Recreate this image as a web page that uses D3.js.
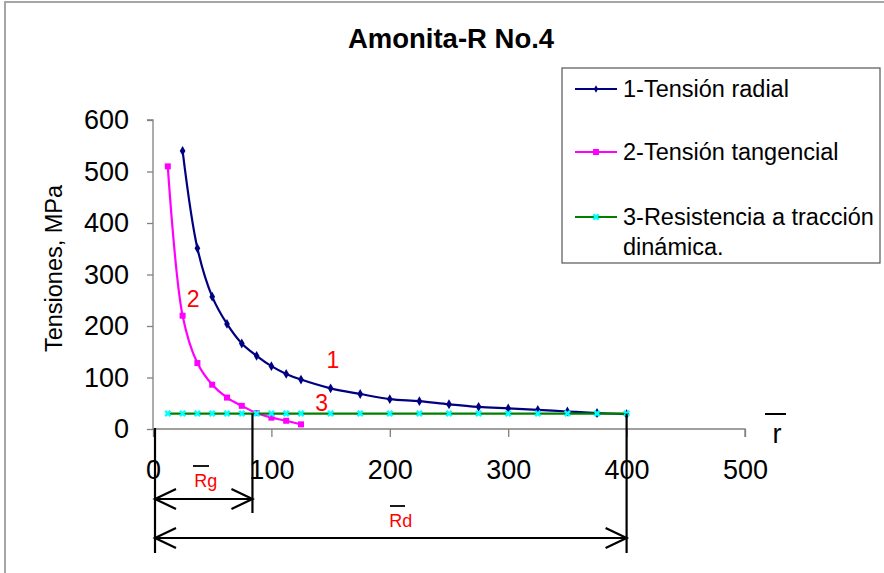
<!DOCTYPE html>
<html><head><meta charset="utf-8">
<script src="https://cdn.jsdelivr.net/npm/d3@7"></script>
<style>
html,body{margin:0;padding:0;background:#fff;}
svg{display:block;font-family:Arial,"Liberation Sans",sans-serif;}
</style></head>
<body>
<svg id="chart" width="884" height="573"></svg>
<script>
// ---- data ----
const title = "Amonita-R No.4";
const yLabel = "Tensiones, MPa";
const xTicks = [0, 100, 200, 300, 400, 500];
const yTicks = [0, 100, 200, 300, 400, 500, 600];
const seriesNames = ["1-Tensión radial", "2-Tensión tangencial", "3-Resistencia a tracción", "dinámica."];

const radialX = [25, 37.5, 50, 62.5, 75, 87.5, 100, 112.5, 125, 150, 175, 200, 225, 250, 275, 300, 325, 350, 375, 400];
const radialY = [540, 351, 257, 204, 166, 142, 122, 107, 96, 79, 68, 58, 54, 48, 43, 40, 37, 34, 31, 29];

const tangX = [12.5, 25, 37.5, 50, 62.5, 75, 87.5, 100, 112.5, 125];
const tangY = [510, 220, 128, 86, 61, 45, 31, 22, 16, 9];

const resistX = [12.5, 25, 37.5, 50, 62.5, 75, 87.5, 100, 112.5, 125, 150, 175, 200, 225, 250, 275, 300, 325, 350, 375, 400];
const resistY = [30, 30, 30, 30, 30, 30, 30, 30, 30, 30, 30, 30, 30, 30, 30, 30, 30, 30, 30, 30, 30];

const Rg = 84;   // radius of crushing zone
const Rd = 400;  // radius of fracture zone

// ---- layout ----
const svg = d3.select("#chart");
const x = d3.scaleLinear().domain([0, 500]).range([153, 745]);
const y = d3.scaleLinear().domain([0, 600]).range([429, 120]);

// outer frame
svg.append("path").attr("d", "M5,580 L5,2 L890,2")
  .attr("fill", "none").attr("stroke", "#a6a6a6").attr("stroke-width", 2);

// title
svg.append("text").attr("x", 451).attr("y", 48).attr("text-anchor", "middle")
  .attr("font-size", 27.5).attr("font-weight", "bold").text(title);

// axes
const xAxis = svg.append("g").attr("transform", `translate(0,${y(0)})`)
  .call(d3.axisBottom(x).tickValues(xTicks).tickSize(8).tickPadding(23).tickFormat(d3.format("d")));
const yAxis = svg.append("g").attr("transform", `translate(${x(0)},0)`)
  .call(d3.axisLeft(y).tickValues(yTicks).tickSize(6).tickPadding(18).tickFormat(d3.format("d")));
[xAxis, yAxis].forEach(g => {
  g.select(".domain").attr("stroke", "#808080").attr("stroke-width", 1.3);
  g.selectAll(".tick line").attr("stroke", "#808080").attr("stroke-width", 1.3);
  g.selectAll(".tick text").attr("font-size", 27).attr("fill", "#000")
    .attr("font-family", "Arial,'Liberation Sans',sans-serif");
});
xAxis.select(".domain").attr("d", `M${x(0)},0H${x(500)}V8`);
yAxis.select(".domain").attr("d", `M-6,${y(600)}H0V${y(0)}`);

// y label
svg.append("text").attr("transform", `translate(62,${(y(0)+y(600))/2 - 6}) rotate(-90)`)
  .attr("text-anchor", "middle").attr("font-size", 23.5).text(yLabel);

// series
const curve = d3.curveCatmullRom.alpha(0.5);
const line = d3.line().x(d => x(d[0])).y(d => y(d[1])).curve(curve);
const radial = radialX.map((v, i) => [v, radialY[i]]);
const tang = tangX.map((v, i) => [v, tangY[i]]);
const resist = resistX.map((v, i) => [v, resistY[i]]);

svg.append("path").datum(radial).attr("d", line).attr("fill", "none")
  .attr("stroke", "#000080").attr("stroke-width", 2.2);
svg.selectAll(".m1").data(radial).enter().append("path")
  .attr("transform", d => `translate(${x(d[0])},${y(d[1])})`)
  .attr("d", d3.symbol(d3.symbolDiamond, 28)).attr("fill", "#000080");

svg.append("path").datum(tang).attr("d", line).attr("fill", "none")
  .attr("stroke", "#ff00ff").attr("stroke-width", 2.2);
svg.selectAll(".m2").data(tang).enter().append("rect")
  .attr("x", d => x(d[0]) - 3).attr("y", d => y(d[1]) - 3)
  .attr("width", 6).attr("height", 6).attr("fill", "#ff00ff");

svg.append("path").datum(resist).attr("d", line).attr("fill", "none")
  .attr("stroke", "#008000").attr("stroke-width", 2.2);
svg.selectAll(".m3").data(resist).enter().append("path")
  .attr("transform", d => `translate(${x(d[0])},${y(d[1])}) rotate(45)`)
  .attr("d", d3.symbol(d3.symbolCross, 30)).attr("fill", "#00ffff");

// series number labels
const numLabels = [["1", 152, 118], ["2", 34, 237], ["3", 142.5, 34]];
numLabels.forEach(([t, vx, vy]) => {
  svg.append("text").attr("x", x(vx)).attr("y", y(vy)).attr("text-anchor", "middle")
    .attr("font-size", 23).attr("fill", "#ff0000").text(t);
});

// legend
const lg = svg.append("g");
lg.append("rect").attr("x", 562).attr("y", 68).attr("width", 318).attr("height", 195)
  .attr("fill", "#fff").attr("stroke", "#555").attr("stroke-width", 1.2);
const legItems = [
  {c: "#000080", m: "diamond", mc: "#000080", ly: 89, ty: 97, t: seriesNames[0]},
  {c: "#ff00ff", m: "square", mc: "#ff00ff", ly: 152, ty: 160, t: seriesNames[1]},
  {c: "#008000", m: "cross", mc: "#00ffff", ly: 217, ty: 225, t: seriesNames[2]}
];
legItems.forEach(it => {
  lg.append("line").attr("x1", 575).attr("x2", 617).attr("y1", it.ly).attr("y2", it.ly)
    .attr("stroke", it.c).attr("stroke-width", 2.2);
  if (it.m === "diamond") lg.append("path").attr("transform", `translate(596,${it.ly})`)
    .attr("d", d3.symbol(d3.symbolDiamond, 16)).attr("fill", it.mc);
  else if (it.m === "square") lg.append("rect").attr("x", 593).attr("y", it.ly - 3)
    .attr("width", 6).attr("height", 6).attr("fill", it.mc);
  else lg.append("path").attr("transform", `translate(596,${it.ly}) rotate(45)`)
    .attr("d", d3.symbol(d3.symbolCross, 30)).attr("fill", it.mc);
  lg.append("text").attr("x", 623).attr("y", it.ty).attr("font-size", 23.5).text(it.t);
});
lg.append("text").attr("x", 623).attr("y", 255).attr("font-size", 23.5).text(seriesNames[3]);

// annotation: r-bar axis title
const ann = svg.append("g");
ann.append("text").attr("x", 777).attr("y", 443).attr("text-anchor", "middle")
  .attr("font-size", 27).text("r");
ann.append("line").attr("x1", 765).attr("x2", 786).attr("y1", 414).attr("y2", 414)
  .attr("stroke", "#000").attr("stroke-width", 2);

// vertical marker lines
const vlines = [[0, 428, 553], [Rg, y(30), 513], [Rd, y(30), 553]];
vlines.forEach(([v, y1, y2]) => {
  ann.append("line").attr("x1", x(v) + (v === 0 ? 2 : 0)).attr("x2", x(v) + (v === 0 ? 2 : 0))
    .attr("y1", y1).attr("y2", y2)
    .attr("stroke", "#000").attr("stroke-width", 2.2);
});
// double arrows
function dblArrow(x1, x2, yy) {
  ann.append("line").attr("x1", x1).attr("x2", x2).attr("y1", yy).attr("y2", yy)
    .attr("stroke", "#000").attr("stroke-width", 2.2);
  ann.append("path").attr("d", `M${x1+21},${yy-10}L${x1},${yy}L${x1+21},${yy+10}`)
    .attr("fill", "none").attr("stroke", "#000").attr("stroke-width", 2.2);
  ann.append("path").attr("d", `M${x2-21},${yy-10}L${x2},${yy}L${x2-21},${yy+10}`)
    .attr("fill", "none").attr("stroke", "#000").attr("stroke-width", 2.2);
}
dblArrow(x(0) + 2, x(Rg), 499);
dblArrow(x(0) + 2, x(Rd), 538);

// Rg, Rd labels with overbars
function barLabel(t, cx, base, bx1, bx2, by) {
  ann.append("text").attr("x", cx).attr("y", base).attr("text-anchor", "middle")
    .attr("font-size", 18).attr("fill", "#ff0000").text(t);
  ann.append("line").attr("x1", bx1).attr("x2", bx2).attr("y1", by).attr("y2", by)
    .attr("stroke", "#000").attr("stroke-width", 1.8);
}
barLabel("Rg", (x(0) + x(Rg)) / 2 + 3, 487, 193, 209, 466);
barLabel("Rd", (x(0) + x(Rd)) / 2 + 11, 527, 390, 405, 506);
</script>
</body></html>
